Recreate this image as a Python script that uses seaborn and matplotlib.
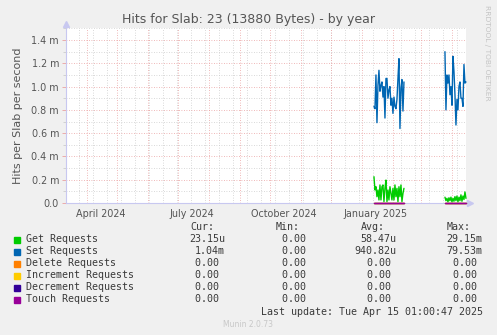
import pandas as pd
import seaborn as sns
import matplotlib.pyplot as plt
import matplotlib.ticker as mtick

# hits per second, in milli units (m)
SET_JAN = [0.83, 0.81, 1.10, 0.69, 1.01, 1.14, 0.96, 1.01, 1.04, 0.91, 1.00, 0.73,
           1.07, 1.07, 0.90, 0.97, 1.00, 0.84, 0.90, 0.77, 0.91, 0.83, 0.81, 0.89,
           1.07, 1.24, 0.64, 0.99, 1.06, 0.79, 1.04]
SET_MAR = [1.30, 0.80, 1.10, 1.03, 1.10, 0.93, 1.00, 0.84, 1.26, 1.13, 0.93, 0.67,
           0.89, 0.80, 1.00, 1.04, 0.90, 0.90, 0.83, 1.19, 1.03, 1.04]
GET_JAN = [0.226, 0.112, 0.140, 0.054, 0.112, 0.026, 0.155, 0.026, 0.140, 0.155,
           0.012, 0.126, 0.197, 0.012, 0.112, 0.026, 0.140, 0.083, 0.026, 0.126,
           0.026, 0.155, 0.054, 0.126, 0.012, 0.140, 0.054, 0.155, 0.012, 0.083, 0.126]
GET_MAR = [0.050, 0.020, 0.040, 0.010, 0.045, 0.020, 0.050, 0.010, 0.040, 0.015,
           0.055, 0.020, 0.060, 0.010, 0.050, 0.020, 0.070, 0.015, 0.060, 0.030,
           0.095, 0.040]
JAN_START = "2025-01-13"
MAR_START = "2025-03-25"

SERIES = ["Get Requests", "Set Requests", "Delete Requests",
          "Increment Requests", "Decrement Requests", "Touch Requests"]
COLORS = ["#00CC00", "#0066B3", "#FF8000", "#FFCC00", "#330099", "#990099"]
CUR = ["23.15u", "1.04m", "0.00", "0.00", "0.00", "0.00"]
MIN = ["0.00", "0.00", "0.00", "0.00", "0.00", "0.00"]
AVG = ["58.47u", "940.82u", "0.00", "0.00", "0.00", "0.00"]
MAX = ["29.15m", "79.53m", "0.00", "0.00", "0.00", "0.00"]

X_LABELS = ["April 2024", "July 2024", "October 2024", "January 2025"]
X_LABEL_DATES = ["2024-04-15", "2024-07-15", "2024-10-15", "2025-01-15"]

BG = "#F0F0F0"
TXT = "#555555"


def build_df():
    rows = []
    segs = [(JAN_START, GET_JAN, SET_JAN), (MAR_START, GET_MAR, SET_MAR)]
    for seg_id, (start, get, set_) in enumerate(segs):
        dates = pd.date_range(start, periods=len(get), freq="D")
        for name in SERIES:
            if name == "Get Requests":
                vals = get
            elif name == "Set Requests":
                vals = set_
            else:
                vals = [0.0] * len(get)
            for d, v in zip(dates, vals):
                rows.append({"date": d, "series": name, "seg": seg_id, "value": v})
    return pd.DataFrame(rows)


def main():
    sns.set_theme(style="white")
    plt.rcParams["font.family"] = ["DejaVu Sans"]
    df = build_df()

    fig = plt.figure(figsize=(4.97, 3.35), dpi=100, facecolor=BG)
    ax = fig.add_axes([66 / 497, 132 / 335, 400 / 497, 174.6 / 335])
    ax.set_facecolor("white")

    # one call per series so touch requests end up on top
    for name, col in zip(SERIES, COLORS):
        sub = df[df["series"] == name]
        sns.lineplot(data=sub, x="date", y="value", units="seg", estimator=None,
                     color=col, linewidth=1.0, ax=ax, legend=False)
    for ln in ax.get_lines():
        ln.set_clip_on(False)
        ln.set_zorder(3)

    x0 = pd.Timestamp("2024-03-11 01:00")
    x1 = pd.Timestamp("2025-04-15 01:00")
    ax.set_xlim(x0, x1)
    ax.set_ylim(0, 1.5)

    # grid
    for d in pd.date_range("2024-03-24", x1, freq="14D"):
        ax.axvline(d, color="#CCCCCC", lw=0.6, ls=(0, (1, 2)), zorder=0)
    for d in pd.date_range("2024-04-01", x1, freq="MS"):
        ax.axvline(d, color="#EBA0A0", lw=0.6, ls=(0, (1, 2)), zorder=0.5)
    ax.yaxis.set_major_locator(mtick.MultipleLocator(0.2))
    ax.yaxis.set_minor_locator(mtick.MultipleLocator(0.1))
    ax.grid(True, axis="y", which="minor", color="#CCCCCC", lw=0.6, ls=(0, (1, 2)))
    ax.grid(True, axis="y", which="major", color="#EBA0A0", lw=0.6, ls=(0, (1, 2)))
    ax.set_axisbelow(True)

    ax.yaxis.set_major_formatter(
        mtick.FuncFormatter(lambda v, p: "0.0" if abs(v) < 1e-9 else f"{v:.1f} m"))
    ax.tick_params(axis="y", which="major", length=3, width=0.6, color="#EBA0A0",
                   labelsize=6.9, labelcolor=TXT, pad=2, left=True)
    ax.tick_params(axis="y", which="minor", length=2, width=0.6, color="#CCCCCC", left=True)

    ax.set_xticks(pd.to_datetime(X_LABEL_DATES))
    ax.set_xticklabels(X_LABELS)
    ax.tick_params(axis="x", which="both", length=0, labelsize=6.9, labelcolor=TXT, pad=4)
    ax.set_xlabel("")
    ax.set_ylabel("Hits per Slab per second", fontsize=8, color=TXT, labelpad=6)

    for s in ["top", "right"]:
        ax.spines[s].set_visible(False)
    for s in ["left", "bottom"]:
        ax.spines[s].set_color("#C8C8F0")
        ax.spines[s].set_linewidth(0.8)
    ax.plot([1.01], [0], marker=">", ms=4, color="#C8C8F0", transform=ax.transAxes,
            clip_on=False)
    ax.plot([0], [1.025], marker="^", ms=4, color="#C8C8F0", transform=ax.transAxes,
            clip_on=False)

    fig.text(248 / 497, 1 - 19 / 335, "Hits for Slab: 23 (13880 Bytes) - by year",
             ha="center", va="center", fontsize=9, color=TXT)
    fig.text(487 / 497, 1 - 53 / 335, "RRDTOOL / TOBI OETIKER", rotation=270,
             ha="center", va="center", fontsize=5.4, color="#C4C4C4")

    # legend table
    mono = "DejaVu Sans Mono"
    fs = 7.2
    tc = "#3A3A3A"

    def fy(y):
        return 1 - y / 335

    for x, h in zip([190, 276, 361, 446.7], ["Cur:", "Min:", "Avg:", "Max:"]):
        fig.text(x / 497, fy(227.5), h, family=mono, fontsize=fs, color=tc,
                 ha="left", va="center")
    pad = lambda s: s if s[-1].isalpha() else s + " "
    for i, (name, col) in enumerate(zip(SERIES, COLORS)):
        y = 239.5 + 12 * i
        fig.patches.append(plt.Rectangle((14 / 497, fy(y + 3)), 6 / 497, 6 / 335,
                                         transform=fig.transFigure, color=col))
        fig.text(26 / 497, fy(y), name, family=mono, fontsize=fs, color=tc,
                 ha="left", va="center")
        for x, col_vals in zip([225, 311.7, 396.7, 482.7], [CUR, MIN, AVG, MAX]):
            fig.text(x / 497, fy(y), pad(col_vals[i]), family=mono, fontsize=fs,
                     color=tc, ha="right", va="center")
    fig.text(483 / 497, fy(311.7), "Last update: Tue Apr 15 01:00:47 2025",
             family=mono, fontsize=fs, color=tc, ha="right", va="center")
    fig.text(248 / 497, fy(324.5), "Munin 2.0.73", fontsize=5.5, color="#C8C8C8",
             ha="center", va="center")

    fig.savefig("out.png", dpi=100, facecolor=BG)


if __name__ == "__main__":
    main()
